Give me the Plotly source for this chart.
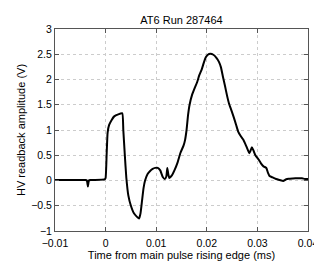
import plotly.graph_objects as go

time_ms = [-0.01, -0.004, -0.0037, -0.0035, -0.0033, -0.003, -0.0002, 0.0, 0.0002, 0.0004,
           0.0007, 0.0012, 0.0017, 0.0025, 0.0033, 0.0035, 0.0038, 0.0041, 0.0045, 0.005,
           0.0056, 0.0062, 0.0066, 0.0069, 0.0072, 0.0075, 0.0078, 0.0083, 0.0088, 0.0093,
           0.0098, 0.0103, 0.0108, 0.0113, 0.0117, 0.0120, 0.0122, 0.0124, 0.0126, 0.0131,
           0.0136, 0.0142, 0.0148, 0.0154, 0.0157, 0.016, 0.0163, 0.0166, 0.0171, 0.0176,
           0.0181, 0.0185, 0.019, 0.0194, 0.0198, 0.0202, 0.0207, 0.0213, 0.0219, 0.0224,
           0.0228, 0.0232, 0.0236, 0.024, 0.0244, 0.0249, 0.0253, 0.0258, 0.0262, 0.0267,
           0.0272, 0.0278, 0.0284, 0.0286, 0.0289, 0.0292, 0.0296, 0.0302, 0.0307, 0.0312,
           0.0316, 0.0318, 0.0321, 0.0324, 0.0330, 0.0337, 0.0344, 0.0351, 0.0356, 0.0362,
           0.037, 0.038, 0.0388, 0.0394, 0.04]
amplitude_v = [0.01, 0.01, 0.0, -0.12, 0.0, 0.01, 0.02, 0.05, 0.5, 0.95,
               1.1, 1.2, 1.27, 1.31, 1.33, 1.0, 0.5, 0.05, -0.3, -0.5,
               -0.65, -0.72, -0.755, -0.65, -0.4, -0.15, 0.0, 0.13, 0.19, 0.23,
               0.25, 0.25, 0.2, 0.07, 0.03, 0.08, 0.25, 0.12, 0.05, 0.1,
               0.2, 0.35, 0.55, 0.69, 0.8, 1.0, 1.3, 1.5, 1.7, 1.83,
               1.95, 2.08, 2.2, 2.33, 2.44, 2.49, 2.51, 2.49, 2.43, 2.35,
               2.24, 2.05, 1.87, 1.68, 1.52, 1.38, 1.26, 1.1, 0.97, 0.88,
               0.81, 0.68, 0.54, 0.58, 0.66, 0.6, 0.5, 0.42, 0.34, 0.28,
               0.26, 0.24, 0.15, 0.09, 0.06, 0.03, 0.01, -0.01, 0.02, 0.035,
               0.04, 0.045, 0.045, 0.03, 0.03]

x_ticks = [-0.01, 0, 0.01, 0.02, 0.03, 0.04]
x_tick_labels = ["\u22120.01", "0", "0.01", "0.02", "0.03", "0.04"]
y_ticks = [-1, -0.5, 0, 0.5, 1, 1.5, 2, 2.5, 3]
y_tick_labels = ["\u22121", "\u22120.5", "0", "0.5", "1", "1.5", "2", "2.5", "3"]

fig = go.Figure()
fig.add_trace(go.Scatter(x=time_ms, y=amplitude_v, mode="lines",
                         line=dict(color="black", width=2, shape="spline", smoothing=0.4),
                         showlegend=False))

axis_common = dict(showline=True, linecolor="#555555", linewidth=1, mirror="allticks",
                   ticks="inside", ticklen=4, tickcolor="#555555",
                   showgrid=True, gridcolor="#cccccc", griddash="dot", gridwidth=1,
                   zeroline=False, tickfont=dict(size=10.5, color="black"),
                   ticklabeloverflow="allow")

fig.update_xaxes(range=[-0.01, 0.04], tickvals=x_ticks, ticktext=x_tick_labels,
                 ticklabelstandoff=2,
                 title=dict(text="Time from main pulse rising edge (ms)", font=dict(size=11, color="black"), standoff=1),
                 **axis_common)
fig.update_yaxes(range=[-1, 3], tickvals=y_ticks, ticktext=y_tick_labels,
                 title=dict(text="HV readback amplitude (V)", font=dict(size=11, color="black"), standoff=3),
                 **axis_common)

fig.update_layout(width=322, height=261, margin=dict(l=40, r=13, t=21, b=28),
                  paper_bgcolor="white", plot_bgcolor="white",
                  font=dict(family="Liberation Sans, Arial, sans-serif", size=11, color="black"),
                  title=dict(text="AT6 Run 287464", x=0.5, xref="paper", y=1 - 12 / 261,
                             yref="container", yanchor="middle", font=dict(size=11, color="black")))

fig.write_html("out.html")
